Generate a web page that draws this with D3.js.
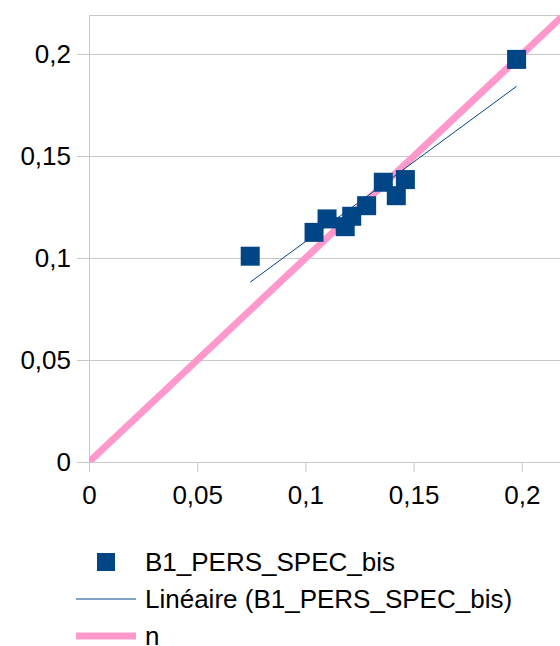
<!DOCTYPE html>
<html>
<head>
<meta charset="utf-8">
<script src="https://cdn.jsdelivr.net/npm/d3@7"></script>
<style>
  html, body { margin: 0; padding: 0; background: #fff; }
  svg { display: block; font-family: "Liberation Sans", Arial, sans-serif; }
</style>
</head>
<body>
<svg id="chart" width="560" height="646"></svg>
<script>
// Measured points of series B1_PERS_SPEC_bis
const xValues = [0.0745, 0.1040, 0.1100, 0.1184, 0.1214, 0.1283, 0.1360, 0.1420, 0.1462, 0.1976];
const yValues = [0.1010, 0.1127, 0.1193, 0.1155, 0.1206, 0.1258, 0.1373, 0.1307, 0.1386, 0.1976];
// Reference line n (y = x)
const nLine = [[0, 0], [0.23, 0.23]];
const xTicks = [0, 0.05, 0.1, 0.15, 0.2];
const yTicks = [0, 0.05, 0.1, 0.15, 0.2];
const legendLabels = ["B1_PERS_SPEC_bis", "Linéaire (B1_PERS_SPEC_bis)", "n"];

const blue = "#004586";
const pink = "#ff99cc";
const grid = "#c8c8c8";
const fontSize = "26px";

const svg = d3.select("#chart");
const plotLeft = 89, plotTop = 15, plotBottom = 462;

const x = d3.scaleLinear().domain([0, 0.22]).range([plotLeft, plotLeft + 0.22 * 2164]);
const y = d3.scaleLinear().domain([0, 0.22]).range([plotBottom, plotBottom - 0.22 * 2037.5]);

const fmt = d => d3.format("~g")(d).replace(".", ",");

const plot = svg.append("g");

// clip to the plot area
svg.append("defs").append("clipPath").attr("id", "plotClip")
  .append("rect").attr("x", plotLeft).attr("y", plotTop)
  .attr("width", x.range()[1] - plotLeft).attr("height", plotBottom - plotTop);

// frame and horizontal gridlines
plot.append("rect")
  .attr("x", plotLeft + 0.5).attr("y", plotTop + 0.5)
  .attr("width", x.range()[1] - plotLeft).attr("height", plotBottom - plotTop)
  .attr("fill", "none").attr("stroke", grid).attr("stroke-width", 1);

plot.append("g").selectAll("line").data(yTicks).join("line")
  .attr("x1", plotLeft - 12).attr("x2", x.range()[1])
  .attr("y1", d => Math.round(y(d)) + 0.5).attr("y2", d => Math.round(y(d)) + 0.5)
  .attr("stroke", grid).attr("stroke-width", 1);

// axes
const xAxis = d3.axisBottom(x).tickValues(xTicks).tickFormat(fmt).tickSize(10).tickSizeOuter(0).tickPadding(14);
const gx = svg.append("g").attr("transform", `translate(0,${plotBottom})`).call(xAxis);
gx.select(".domain").attr("stroke", grid);
gx.selectAll(".tick line").attr("stroke", grid);
gx.selectAll("text").attr("fill", "#000").style("font-size", fontSize).style("font-family", "Liberation Sans, Arial, sans-serif");

const yAxis = d3.axisLeft(y).tickValues(yTicks).tickFormat(fmt).tickSize(0).tickPadding(18);
const gy = svg.append("g").attr("transform", `translate(${plotLeft},0)`).call(yAxis);
gy.select(".domain").remove();
gy.selectAll("text").attr("fill", "#000").style("font-size", fontSize).style("font-family", "Liberation Sans, Arial, sans-serif");

const inner = svg.append("g").attr("clip-path", "url(#plotClip)");

// pink reference line
inner.append("path")
  .datum(nLine)
  .attr("d", d3.line().x(d => x(d[0])).y(d => y(d[1])))
  .attr("fill", "none").attr("stroke", pink).attr("stroke-width", 7);

// linear trend line fitted to the series
const pts = xValues.map((v, i) => [v, yValues[i]]);
const mx = d3.mean(xValues), my = d3.mean(yValues);
const slope = d3.sum(pts, p => (p[0] - mx) * (p[1] - my)) / d3.sum(pts, p => (p[0] - mx) ** 2);
const intercept = my - slope * mx;
const [xmin, xmax] = d3.extent(xValues);
inner.append("path")
  .datum([xmin, xmax].map(v => [v, intercept + slope * v]))
  .attr("d", d3.line().x(d => x(d[0])).y(d => y(d[1])))
  .attr("fill", "none").attr("stroke", blue).attr("stroke-width", 1);

// square markers
const s = 19;
svg.append("g").selectAll("rect").data(pts).join("rect")
  .attr("x", d => x(d[0]) - s / 2).attr("y", d => y(d[1]) - s / 2)
  .attr("width", s).attr("height", s)
  .attr("fill", blue);

// legend
const lg = svg.append("g").style("font-size", fontSize);
const rows = [562, 599, 636];
lg.append("rect").attr("x", 106 - 9).attr("y", rows[0] - 9).attr("width", 18).attr("height", 18).attr("fill", blue);
lg.append("line").attr("x1", 76).attr("x2", 136).attr("y1", rows[1]).attr("y2", rows[1])
  .attr("stroke", blue).attr("stroke-width", 1);
lg.append("line").attr("x1", 76).attr("x2", 136).attr("y1", rows[2]).attr("y2", rows[2])
  .attr("stroke", pink).attr("stroke-width", 7);
lg.selectAll("text").data(legendLabels).join("text")
  .attr("x", 145).attr("y", (d, i) => rows[i]).attr("dy", "0.35em")
  .attr("fill", "#000").text(d => d);
</script>
</body>
</html>
